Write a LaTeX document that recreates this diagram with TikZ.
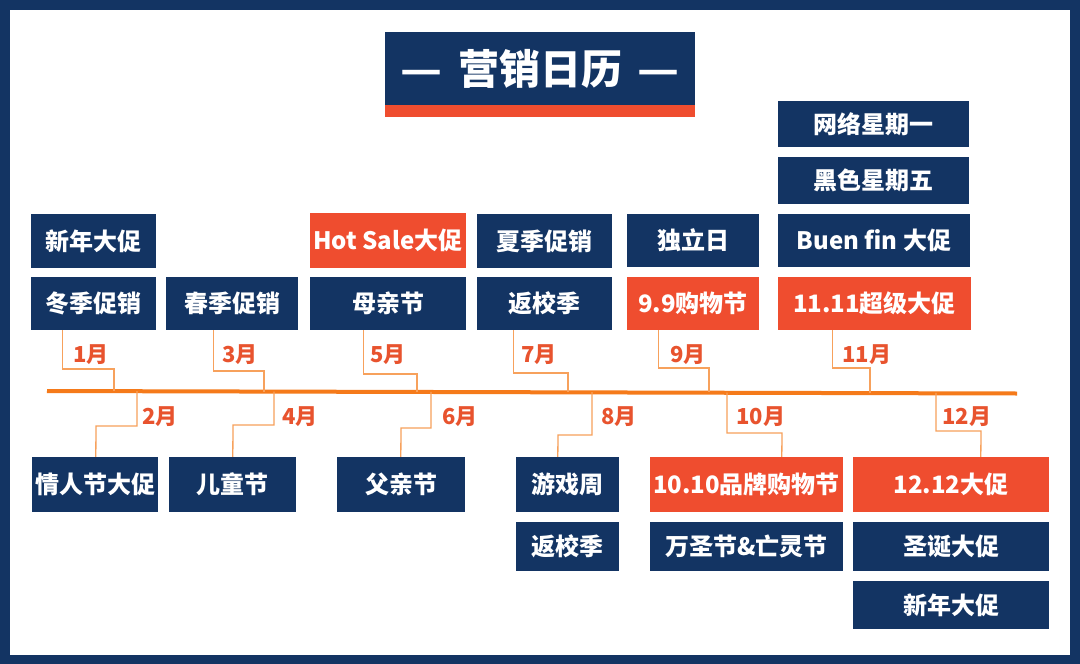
\documentclass[tikz,border=0pt]{standalone}
\usepackage{fontspec}
\setmainfont{Noto Sans CJK SC}
\definecolor{navy}{HTML}{133463}
\definecolor{redor}{HTML}{EF4D2F}
\definecolor{tline}{HTML}{F57A1A}
\definecolor{conncol}{HTML}{F7A15C}
\definecolor{labcol}{HTML}{E8532E}
\tikzset{
  nbox/.style={fill=navy, text=white, font=\fontsize{24}{24}\selectfont\bfseries, inner sep=0pt, draw=none},
  obox/.style={nbox, fill=redor},
  conn/.style={draw=conncol, line width=1.3pt},
  mlab/.style={text=labcol, font=\fontsize{22}{22}\selectfont\bfseries, anchor=west, inner sep=0pt},
}
\newcommand{\bx}[7]{\node[#6, minimum width={(#4-#2)*1pt}, minimum height={(#5-#3)*1pt}] (#1) at ({(#2+#4)/2},{(#3+#5)/2}) {#7};}
\begin{document}
\begin{tikzpicture}[x=1pt,y=-1pt]
\useasboundingbox (0,0) rectangle (1080,664);
% frame
\fill[navy] (0,0) rectangle (1080,664);
\fill[white] (10,10) rectangle (1070,655);
% title
\fill[navy] (385,32) rectangle (695,105);
\fill[redor] (385,105) rectangle (695,117);
\node[text=white, font=\fontsize{41}{41}\selectfont\bfseries, inner sep=0pt] (title) at (540,69) {\scalebox{1.12}[1]{—}\hspace{0.38em}营销日历\hspace{0.38em}\scalebox{1.12}[1]{—}};
% timeline
\coordinate (tl) at (47,391);
\coordinate (tr) at (1017,393.5);
\draw[tline, line width=4pt] (tl) -- (tr);
% top boxes
\bx{a1}{31}{214}{156}{268}{nbox}{新年大促}
\bx{b1}{31}{277}{156}{330}{nbox}{冬季促销}
\bx{b3}{166}{277}{298}{330}{nbox}{春季促销}
\bx{a5}{310}{213}{466}{268}{obox}{Hot Sale大促}
\bx{b5}{310}{277}{466}{330}{nbox}{母亲节}
\bx{a7}{477}{214}{612}{268}{nbox}{夏季促销}
\bx{b7}{477}{277}{612}{330}{nbox}{返校季}
\bx{a9}{627}{214}{759}{267}{nbox}{独立日}
\bx{b9}{627}{277}{759}{330}{obox}{9.9购物节}
\bx{c11}{778}{101}{969}{147}{nbox}{网络星期一}
\bx{d11}{778}{157}{969}{204}{nbox}{黑色星期五}
\bx{a11}{778}{214}{970}{267}{nbox}{Buen fin 大促}
\bx{b11}{778}{277}{971}{330}{obox}{11.11超级大促}
% bottom boxes
\bx{b2}{32}{457}{158}{512}{nbox}{情人节大促}
\bx{b4}{169}{457}{296}{512}{nbox}{儿童节}
\bx{b6}{337}{457}{465}{512}{nbox}{父亲节}
\bx{b8}{516}{457}{619}{512}{nbox}{游戏周}
\bx{c8}{516}{522}{619}{571}{nbox}{返校季}
\bx{b10}{650}{457}{843}{512}{obox}{10.10品牌购物节}
\bx{c10}{650}{522}{843}{571}{nbox}{万圣节\&亡灵节}
\bx{b12}{853}{457}{1049}{512}{obox}{12.12大促}
\bx{c12}{853}{522}{1049}{571}{nbox}{圣诞大促}
\bx{d12}{853}{581}{1049}{629}{nbox}{新年大促}
% timeline points
\coordinate (m1) at (114,391.1);
\coordinate (m3) at (264,391.5);
\coordinate (m5) at (417,391.8);
\coordinate (m7) at (568,392.1);
\coordinate (m9) at (709,392.4);
\coordinate (m11) at (870,392.8);
\coordinate (m2) at (137,391.2);
\coordinate (m4) at (274,391.5);
\coordinate (m6) at (431,391.8);
\coordinate (m8) at (592,392.2);
\coordinate (m10) at (727,392.5);
\coordinate (m12) at (936,392.9);
% top connectors
\draw[conn] ([xshift=32pt]b1.south west) |- (114,369) -- (m1);
\draw[conn] ([xshift=48pt]b3.south west) |- (264,371) -- (m3);
\draw[conn] ([xshift=54pt]b5.south west) |- (417,374) -- (m5);
\draw[conn] ([xshift=37pt]b7.south west) |- (568,373) -- (m7);
\draw[conn] ([xshift=32pt]b9.south west) |- (709,368) -- (m9);
\draw[conn] ([xshift=55pt]b11.south west) |- (870,368) -- (m11);
% bottom connectors
\draw[conn] (m2) |- (96,426) -- ([xshift=64pt]b2.north west);
\draw[conn] (m4) |- (233,425) -- ([xshift=64pt]b4.north west);
\draw[conn] (m6) |- (401,428) -- ([xshift=64pt]b6.north west);
\draw[conn] (m8) |- (558,435) -- ([xshift=42pt]b8.north west);
\draw[conn] (m10) |- (782,433) -- ([xshift=132pt]b10.north west);
\draw[conn] (m12) |- (981,431) -- ([xshift=128pt]b12.north west);
% month labels
\node[mlab] (l1) at (73,355) {1月};
\node[mlab] (l3) at (222,355) {3月};
\node[mlab] (l5) at (370,355) {5月};
\node[mlab] (l7) at (521,355) {7月};
\node[mlab] (l9) at (670,355) {9月};
\node[mlab] (l11) at (842,355) {11月};
\node[mlab] (l2) at (142,417) {2月};
\node[mlab] (l4) at (282,417) {4月};
\node[mlab] (l6) at (442,417) {6月};
\node[mlab] (l8) at (601,417) {8月};
\node[mlab] (l10) at (736,417) {10月};
\node[mlab] (l12) at (942,417) {12月};
\end{tikzpicture}
\end{document}
